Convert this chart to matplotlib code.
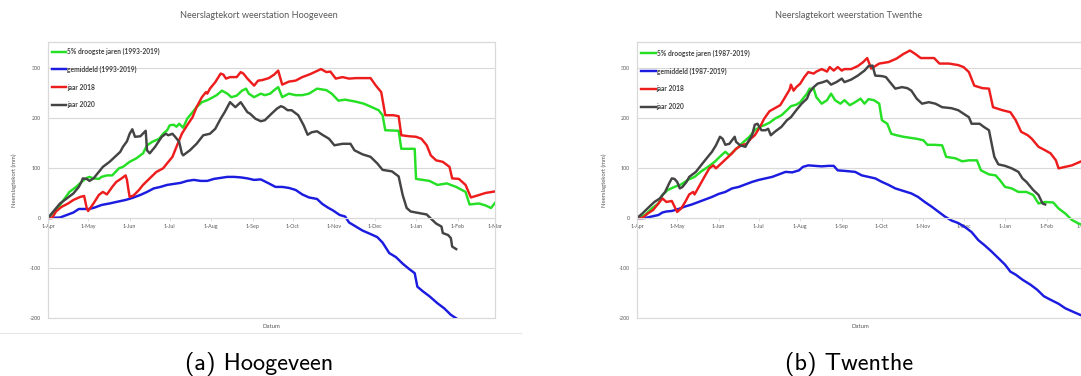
import matplotlib
matplotlib.use('Agg')
import matplotlib.pyplot as plt
from matplotlib.patches import Rectangle
from matplotlib.lines import Line2D

# ---------------- data ----------------
month_days = [0, 30, 61, 91, 122, 153, 183, 214, 244, 275, 306, 334]
month_labels = ['1-Apr', '1-May', '1-Jun', '1-Jul', '1-Aug', '1-Sep', '1-Oct',
                '1-Nov', '1-Dec', '1-Jan', '1-Feb', '1-Mar']
y_ticks = [-200, -100, 0, 100, 200, 300]

titles = ['Neerslagtekort weerstation Hoogeveen', 'Neerslagtekort weerstation Twenthe']
captions = ['(a) Hoogeveen', '(b) Twenthe']
labels_hoog = ['5% droogste jaren (1993-2019)', 'gemiddeld (1993-2019)', 'jaar 2018', 'jaar 2020']
labels_twen = ['5% droogste jaren (1987-2019)', 'gemiddeld (1987-2019)', 'jaar 2018', 'jaar 2020']

# (day since 1-Apr, mm)
hoog_green = [(0,0),(9,26),(16,52),(21,62),(25,72),(29,80),(31,82),(34,79),(38,78),(40,82),(44,85),(48,85),
              (53,99),(56,102),(61,112),(66,119),(71,129),(74,145),(78,152),(83,158),(86,168),(89,175),(91,185),
              (94,186),(96,182),(98,188),(101,180),(104,198),(108,211),(111,221),(115,231),(119,235),(122,239),
              (126,245),(130,254),(134,248),(137,241),(141,244),(145,254),(148,258),(150,248),(154,241),(159,248),
              (162,245),(166,248),(169,255),(172,261),(175,241),(180,248),(185,245),(190,245),(195,248),(201,258),
              (208,255),(212,248),(217,234),(222,236),(230,232),(236,228),(242,221),(247,215),(250,205),(252,175),
              (262,174),(264,138),(274,138),(275,78),(285,74),(291,66),(298,69),(305,62),(312,52),(315,27),
              (322,29),(327,25),(331,20),(334,30)]
hoog_blue = [(0,0),(9,1),(14,6),(19,11),(23,18),(26,18),(31,18),(35,21),(40,26),(46,29),(51,32),(58,36),(63,40),
             (69,46),(74,52),(79,59),(84,62),(89,66),(94,68),(99,70),(104,74),(109,76),(114,74),(119,74),(124,78),
             (129,80),(134,82),(139,82),(144,81),(149,79),(154,76),(159,77),(165,69),(170,62),(175,62),(180,60),
             (185,56),(190,47),(195,41),(201,38),(205,28),(209,21),(213,15),(218,6),(222,3),(225,-9),(230,-17),
             (235,-25),(241,-32),(246,-38),(250,-49),(255,-70),(260,-78),(265,-91),(270,-102),(274,-110),
             (276,-137),(280,-146),(285,-156),(291,-170),(296,-180),(301,-193),(305,-200)]
hoog_red = [(0,0),(3,0),(6,13),(10,22),(15,29),(19,36),(24,42),(27,44),(29,19),(30,14),(34,29),(38,46),(41,52),
            (44,47),(48,62),(51,72),(55,79),(58,85),(59,76),(60,58),(61,42),(64,45),(68,56),(71,66),(76,79),
            (81,92),(86,99),(89,109),(93,122),(96,142),(100,168),(104,185),(108,201),(111,221),(115,241),
            (118,251),(119,248),(121,258),(125,271),(129,288),(131,286),(133,278),(136,281),(141,281),(144,291),
            (146,288),(149,278),(154,264),(157,274),(160,275),(165,279),(169,286),(172,294),(175,266),(180,272),
            (185,274),(190,281),(196,287),(204,297),(208,291),(211,292),(215,278),(220,281),(225,278),(230,279),
            (237,279),(241,279),(245,264),(249,251),(252,205),(258,205),(262,203),(264,165),(270,163),(275,162),
            (279,158),(283,145),(286,125),(290,115),(295,112),(300,102),(302,79),(307,78),(312,66),(316,41),
            (321,45),(327,50),(334,53)]
hoog_black = [(0,0),(4,13),(9,29),(14,39),(19,49),(23,62),(25,72),(26,79),(29,78),(31,74),(34,79),(38,92),(41,102),
              (46,112),(50,122),(54,132),(56,142),(59,153),(61,168),(63,177),(65,162),(69,163),(73,174),(74,135),
              (76,129),(80,142),(85,162),(88,168),(90,165),(93,168),(95,162),(98,152),(100,129),(101,125),(106,135),
              (111,148),(116,165),(121,168),(125,178),(129,198),(132,211),(136,231),(140,221),(144,231),(149,211),
              (151,208),(155,198),(159,193),(162,195),(167,208),(171,218),(174,223),(176,221),(179,215),(182,215),
              (187,205),(191,185),(194,166),(197,171),(201,173),(205,166),(210,158),(214,145),(220,148),(226,148),
              (229,135),(235,127),(241,122),(246,109),(250,96),(257,93),(262,83),(265,46),(268,20),(271,13),
              (277,10),(283,7),(286,-1),(290,-11),(294,-17),(295,-30),(299,-34),(301,-40),(302,-57),(305,-62)]

twen_green = [(0,0),(6,6),(11,19),(16,29),(19,46),(23,56),(28,62),(33,67),(38,76),(43,82),(48,93),(53,102),(58,112),
              (63,125),(66,132),(69,125),(73,135),(77,145),(81,155),(84,162),(88,175),(92,182),(95,185),(99,190),
              (103,198),(108,205),(112,215),(115,223),(119,226),(122,231),(124,238),(127,248),(129,258),(132,258),
              (134,241),(138,228),(142,235),(145,248),(148,235),(152,228),(155,235),(159,225),(163,231),(167,238),
              (170,228),(173,237),(177,235),(181,228),(183,195),(187,188),(190,168),(194,165),(199,162),(204,160),
              (209,158),(214,155),(217,146),(222,146),(228,145),(231,122),(238,119),(243,113),(248,115),(254,115),
              (257,95),(263,87),(268,85),(271,76),(275,62),(280,59),(285,52),(291,52),(296,46),(300,29),(305,32),
              (311,31),(315,19),(320,9),(325,-4),(330,-11),(334,-15)]
twen_blue = [(0,0),(6,0),(11,3),(16,6),(19,11),(22,13),(26,14),(31,18),(36,23),(41,27),(46,32),(51,37),(56,42),
             (61,48),(66,52),(71,59),(76,62),(81,67),(86,72),(91,76),(96,79),(101,82),(106,87),(111,92),(116,91),
             (121,95),(124,102),(128,105),(133,104),(138,103),(143,104),(147,104),(150,95),(155,94),(163,92),
             (168,85),(173,82),(178,79),(183,72),(188,66),(193,59),(199,54),(205,49),(210,42),(215,32),(220,23),
             (225,13),(230,3),(235,-5),(240,-10),(245,-18),(250,-28),(255,-44),(260,-55),(265,-67),(270,-80),
             (275,-93),(279,-107),(283,-113),(288,-123),(294,-133),(299,-143),(304,-156),(309,-163),(315,-171),
             (320,-180),(325,-186),(331,-193),(334,-196)]
twen_red = [(0,0),(4,0),(8,9),(12,16),(16,29),(19,39),(22,32),(26,34),(28,23),(30,12),(33,19),(36,32),(39,47),
            (42,52),(43,47),(47,66),(51,85),(54,99),(57,105),(59,99),(63,109),(67,119),(71,129),(74,138),(78,145),
            (82,148),(85,158),(88,165),(92,182),(95,198),(99,213),(103,219),(107,225),(110,238),(114,256),
            (115,266),(117,254),(119,261),(122,268),(125,281),(128,291),(132,288),(134,292),(138,297),(142,292),
            (144,301),(147,294),(150,301),(153,294),(155,297),(160,297),(165,303),(169,311),(172,319),(174,305),
            (175,298),(181,308),(188,311),(194,318),(199,327),(204,334),(208,327),(212,319),(218,319),(222,319),
            (226,308),(233,308),(240,305),(244,301),(248,291),(252,264),(258,259),(263,258),(266,221),(273,215),
            (279,211),(283,195),(287,172),(292,165),(295,158),(300,142),(305,135),(309,129),(313,115),(315,99),
            (320,102),(325,105),(331,112),(334,115)]
twen_black = [(0,0),(4,9),(9,22),(13,32),(17,39),(21,52),(24,69),(26,79),(28,78),(30,72),(32,59),(34,62),(37,72),
              (39,82),(44,92),(49,109),(52,119),(56,132),(59,145),(62,162),(64,158),(66,146),(69,148),(73,162),
              (74,152),(77,145),(81,142),(83,152),(86,165),(88,186),(90,188),(93,175),(96,175),(98,178),(100,165),
              (103,172),(108,182),(112,195),(115,201),(119,215),(123,228),(127,238),(129,251),(132,261),(135,268),
              (139,271),(142,274),(145,266),(149,271),(153,278),(155,271),(160,276),(165,284),(170,294),(173,303),
              (176,304),(178,284),(183,283),(186,281),(189,271),(193,258),(198,261),(202,259),(205,254),(209,238),
              (213,228),(218,231),(223,228),(228,221),(235,219),(240,215),(244,208),(248,201),(250,188),(256,188),
              (259,182),(263,175),(266,135),(267,122),(270,107),(275,104),(280,99),(285,92),(288,79),(291,72),
              (296,56),(300,46),(303,29),(305,27)]

series_colors = ['#25e025', '#1c1ce0', '#ee1d1d', '#444444']

# ---------------- layout ----------------
W, H = 1081, 376
fig = plt.figure(figsize=(W / 100, H / 100), dpi=100)
CHART_FONT = ['Lato', 'DejaVu Sans']
GRAY = '#595959'
LINEGRAY = '#d9d9d9'


def px_rect(left, right, top, bottom):
    return [left / W, 1 - bottom / H, (right - left) / W, (bottom - top) / H]


def draw_panel(rect, series, labels, title, title_x, ylabel_x, caption, cap_x, leg_x, leg_top):
    ax = fig.add_axes(rect)
    for data, lab, col in zip(series, labels, series_colors):
        xs = [d for d, v in data]
        ys = [v for d, v in data]
        ax.plot(xs, ys, color=col, lw=1.75, label=lab, solid_joinstyle='round')
    ax.set_xlim(month_days[0], month_days[-1])
    ax.set_ylim(-200, 352)
    ax.set_yticks(y_ticks)
    ax.set_yticklabels([str(t) for t in y_ticks])
    ax.set_xticks(month_days)
    ax.set_xticklabels(month_labels)
    ax.yaxis.grid(True, color=LINEGRAY, lw=0.8)
    ax.set_axisbelow(True)
    for s in ['left', 'right', 'top']:
        ax.spines[s].set_color(LINEGRAY)
        ax.spines[s].set_linewidth(0.8)
    ax.spines['bottom'].set_position(('data', 0))
    ax.spines['bottom'].set_color(LINEGRAY)
    ax.spines['bottom'].set_linewidth(0.8)
    ax.add_patch(Rectangle((0, 0), 1, 1, transform=ax.transAxes, fill=False,
                           ec=LINEGRAY, lw=0.8, clip_on=False, zorder=0))
    ax.tick_params(axis='x', length=2, width=0.6, color=LINEGRAY, labelsize=3.9,
                   labelcolor=GRAY, pad=2.5)
    ax.tick_params(axis='y', length=0, labelsize=3.9, labelcolor=GRAY, pad=5)
    for t in ax.get_xticklabels() + ax.get_yticklabels():
        t.set_family(CHART_FONT)
    leg = ax.legend(loc='upper left', bbox_to_anchor=(leg_x, leg_top), frameon=False,
                    prop={'family': CHART_FONT, 'size': 4.8, 'weight': 'bold'},
                    handlelength=2.2, handletextpad=0.15, labelspacing=1.6,
                    borderpad=0, borderaxespad=0)
    for t in leg.get_texts():
        t.set_color('#404040')
    # titles / axis labels
    fig.text(title_x / W, 1 - 15.5 / H, title, ha='center', va='center', fontsize=6.6,
             color=GRAY, family=CHART_FONT)
    fig.text(ylabel_x / W, 1 - 180 / H, 'Neerslagtekort (mm)', rotation=90, ha='center',
             va='center', fontsize=4.3, color=GRAY, family=CHART_FONT)
    x0, w = rect[0] * W, rect[2] * W
    fig.text((x0 + w / 2) / W, 1 - 326 / H, 'Datum', ha='center', va='center',
             fontsize=4.3, color=GRAY, family=CHART_FONT)
    fig.text(cap_x / W, 1 - 370 / H, caption, ha='center', va='baseline',
             fontsize=17.5, color='black', family=['cmss10', 'DejaVu Sans'])
    return ax


draw_panel(px_rect(48, 495, 41.5, 318.3), [hoog_green, hoog_blue, hoog_red, hoog_black],
           labels_hoog, titles[0], 259, 14, captions[0], 259, 0.008, 0.977)
draw_panel(px_rect(637, 1084, 41.5, 318.3), [twen_green, twen_blue, twen_red, twen_black],
           labels_twen, titles[1], 849, 604, captions[1], 849, 0.009, 0.971)

fig.add_artist(Line2D([0, 521 / W], [1 - 333.3 / H] * 2, color='#e6e6e6', lw=0.8))

fig.savefig('out.png', dpi=100, facecolor='white')
